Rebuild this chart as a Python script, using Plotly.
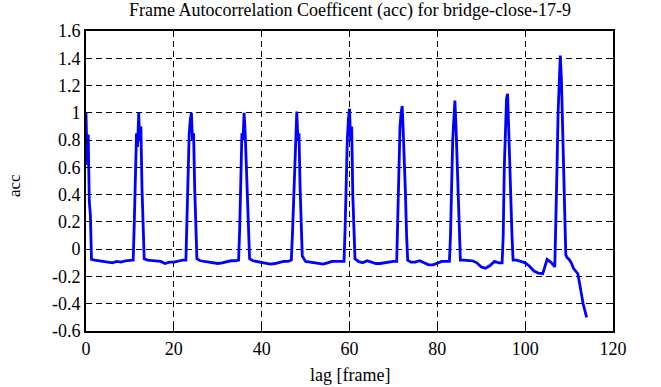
import plotly.graph_objects as go

# ---- data ----
peak_centers = [0, 12, 24, 36, 48, 60, 72, 84, 96, 108]
peak_offsets = [-1.25, -1.0, -0.75, -0.5, -0.25, 0.0, 0.25, 0.5, 0.75, 1.0, 1.25]

peak0_acc = [1.00, 0.62, 0.84, 0.35, 0.25, -0.075]          # offsets 0 .. 1.25
peak12_acc = [-0.08, 0.20, 0.60, 0.85, 0.75, 1.00, 0.80, 0.90, 0.45, 0.10, -0.07]
peak24_acc = [-0.08, 0.25, 0.60, 0.85, 0.95, 1.00, 0.80, 0.85, 0.45, 0.15, -0.07]
peak36_acc = [-0.08, 0.15, 0.50, 0.85, 0.80, 1.00, 0.85, 0.60, 0.35, 0.05, -0.07]
peak48_acc = [-0.08, 0.10, 0.35, 0.60, 0.85, 1.01, 0.80, 0.85, 0.45, 0.10, -0.05]
peak60_acc = [-0.09, 0.15, 0.55, 0.80, 0.95, 1.03, 0.80, 0.90, 0.40, 0.05, -0.07]
peak72_acc = [-0.09, 0.20, 0.65, 0.90, 1.00, 1.05, 0.85, 0.65, 0.40, 0.10, -0.08]
peak84_acc = [-0.09, 0.10, 0.50, 0.80, 0.95, 1.09, 0.90, 0.65, 0.30, 0.05, -0.08]
peak96_acc = [-0.10, 0.10, 0.60, 0.95, 1.10, 1.14, 0.85, 0.60, 0.35, 0.10, -0.08]
peak108_acc = [-0.13, 0.15, 0.60, 1.00, 1.30, 1.42, 1.25, 0.90, 0.55, 0.20, -0.04]

base_lag = [2, 3, 4, 5, 6, 7, 8, 9, 10,
            14, 15, 16, 17, 18, 19, 20, 21, 22,
            26, 27, 28, 29, 30, 31, 32, 33, 34,
            38, 39, 40, 41, 42, 43, 44, 45, 46,
            50, 51, 52, 53, 54, 55, 56, 57, 58,
            62, 63, 64, 65, 66, 67, 68, 69, 70,
            74, 75, 76, 77, 78, 79, 80, 81, 82,
            86, 87, 88, 89, 90, 91, 92, 93, 94,
            98, 99, 100, 101, 102, 103, 104, 105, 106,
            109.5, 110, 110.5, 111, 112, 112.5, 113.2, 114]
base_acc = [-0.08, -0.085, -0.085, -0.09, -0.10, -0.09, -0.095, -0.085, -0.085,
            -0.08, -0.085, -0.085, -0.09, -0.105, -0.095, -0.095, -0.085, -0.08,
            -0.085, -0.09, -0.09, -0.095, -0.105, -0.10, -0.09, -0.085, -0.085,
            -0.085, -0.09, -0.095, -0.10, -0.11, -0.105, -0.095, -0.09, -0.09,
            -0.09, -0.095, -0.10, -0.11, -0.11, -0.10, -0.09, -0.09, -0.09,
            -0.09, -0.10, -0.085, -0.095, -0.105, -0.105, -0.10, -0.09, -0.09,
            -0.095, -0.095, -0.085, -0.10, -0.115, -0.115, -0.10, -0.09, -0.09,
            -0.08, -0.085, -0.085, -0.10, -0.13, -0.14, -0.12, -0.09, -0.10,
            -0.08, -0.09, -0.10, -0.125, -0.16, -0.175, -0.18, -0.075, -0.10,
            -0.06, -0.075, -0.10, -0.14, -0.18, -0.27, -0.40, -0.50]

x_tickvals = [0, 20, 40, 60, 80, 100, 120]
y_tickvals = [-0.6, -0.4, -0.2, 0, 0.2, 0.4, 0.6, 0.8, 1, 1.2, 1.4, 1.6]
y_ticktext = ["-0.6", "-0.4", "-0.2", "0", "0.2", "0.4", "0.6", "0.8", "1", "1.2", "1.4", "1.6"]

# ---- assemble the series ----
peak_values = [peak12_acc, peak24_acc, peak36_acc, peak48_acc, peak60_acc,
               peak72_acc, peak84_acc, peak96_acc, peak108_acc]
points = [(o, v) for o, v in zip(peak_offsets[5:], peak0_acc)]
for c, vals in zip(peak_centers[1:], peak_values):
    points += [(c + o, v) for o, v in zip(peak_offsets, vals)]
points += list(zip(base_lag, base_acc))
points.sort(key=lambda p: p[0])
lag = [p[0] for p in points]
acc = [p[1] for p in points]

FONT = "Liberation Serif"
TF = dict(family=FONT, size=18, color="black")

fig = go.Figure()
fig.add_trace(go.Scatter(x=lag, y=acc, mode="lines",
                         line=dict(color="#0000ff", width=2.8),
                         showlegend=False, hoverinfo="skip"))

axis_common = dict(
    showline=True, linecolor="black", linewidth=2, mirror="allticks",
    ticks="inside", ticklen=6, tickwidth=1, tickcolor="black",
    showgrid=True, gridcolor="black", gridwidth=1, griddash="6px,4px",
    zeroline=False, tickfont=dict(family=FONT, size=18, color="black"),
    automargin=False,
)

fig.update_layout(
    width=661, height=387,
    margin=dict(l=86, r=48, t=31, b=56),
    paper_bgcolor="white", plot_bgcolor="white",
    font=TF,
    xaxis=dict(range=[0, 120], tickvals=x_tickvals, **axis_common),
    yaxis=dict(range=[-0.6, 1.6], tickvals=y_tickvals, ticktext=y_ticktext,
               **axis_common),
    annotations=[
        dict(text="Frame Autocorrelation Coefficent (acc) for bridge-close-17-9",
             xref="paper", yref="paper", x=0.5, y=1, xanchor="center",
             yanchor="middle", yshift=21, showarrow=False, font=TF),
        dict(text="lag [frame]", xref="paper", yref="paper", x=0.5, y=0,
             xanchor="center", yanchor="middle", yshift=-44, showarrow=False,
             font=TF),
        dict(text="acc", xref="paper", yref="paper", x=0, y=0.5,
             xanchor="center", yanchor="middle", xshift=-72, yshift=-5,
             textangle=-90, showarrow=False,
             font=dict(family=FONT, size=17, color="black")),
    ],
)

# remove the browser's default 8px page margin so the figure sits at (0, 0)
fig.write_html("out.html",
               config={"displayModeBar": False, "staticPlot": True},
               post_script="document.body.style.margin='0';"
                           "document.body.style.padding='0';")
